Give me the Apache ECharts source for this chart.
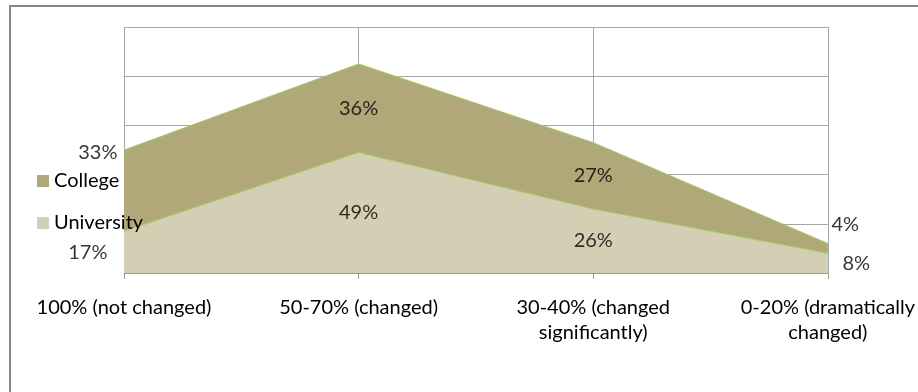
<!DOCTYPE html>
<html>
<head>
<meta charset="utf-8">
<script src="https://cdn.jsdelivr.net/npm/echarts@6/dist/echarts.min.js"></script>
<style>
  html, body { margin: 0; padding: 0; background: #fff; }
  #chart { width: 918px; height: 392px; }
</style>
</head>
<body>
<div id="chart"></div>
<script>
const categories = [
  '100% (not changed)',
  '50-70% (changed)',
  '30-40% (changed\nsignificantly)',
  '0-20% (dramatically\nchanged)'
];
const university = [17, 49, 26, 8];
const college = [33, 36, 27, 4];

const FONT = 'Lato';
const FS = 20;

const chart = echarts.init(document.getElementById('chart'));

// label anchors: middle of each band
const univMid = university.map((v, i) => [i, v / 2]);
const collegeMid = college.map((v, i) => [i, university[i] + v / 2]);

// end labels sit outside the plot like in the original
const univLabel = [
  { position: 'left', distance: 16 },
  { position: 'inside' },
  { position: 'inside' },
  { position: 'right', distance: 14 }
];
const collegeLabel = [
  { position: 'left', distance: 6, offset: [0, -38] },
  { position: 'inside' },
  { position: 'inside' },
  { position: 'right', distance: 3, offset: [0, -24] }
];

function labelSeries(name, points, values, labels) {
  return {
    name: name,
    type: 'scatter',
    symbolSize: 1,
    silent: true,
    z: 5,
    itemStyle: { color: 'transparent' },
    label: {
      show: true,
      color: '#000',
      fontFamily: FONT,
      fontSize: FS,
      formatter: (p) => values[p.dataIndex] + '%'
    },
    data: points.map((pt, i) => ({ value: pt, label: labels[i] }))
  };
}

chart.setOption({
  animation: false,
  textStyle: { fontFamily: FONT },
  graphic: [
    {
      type: 'rect',
      shape: { x: 10, y: 6, width: 1000, height: 1000 },
      style: { fill: 'none', stroke: '#878787', lineWidth: 2 },
      silent: true
    }
  ],
  grid: { left: 124, right: 90, top: 27, bottom: 119 },
  legend: {
    data: ['College', 'University'],
    orient: 'vertical',
    left: 32,
    top: 166,
    itemWidth: 12,
    itemHeight: 12,
    itemGap: 22,
    icon: 'rect',
    z: 10,
    textStyle: { fontFamily: FONT, fontSize: FS, color: '#000' }
  },
  xAxis: {
    type: 'category',
    data: categories,
    boundaryGap: false,
    axisLine: { lineStyle: { color: '#9a9a9a', width: 1 } },
    axisTick: { show: true, length: 6, lineStyle: { color: '#9a9a9a' } },
    axisLabel: {
      color: '#000',
      fontFamily: FONT,
      fontSize: FS,
      lineHeight: 25,
      margin: 22,
      interval: 0
    },
    splitLine: { show: true, lineStyle: { color: '#a6a6a6', width: 1 } }
  },
  yAxis: {
    type: 'value',
    min: 0,
    max: 100,
    interval: 20,
    axisLine: { show: false },
    axisTick: { show: false },
    axisLabel: { show: false },
    splitLine: { show: true, lineStyle: { color: '#a6a6a6', width: 1 } }
  },
  series: [
    {
      name: 'University',
      type: 'line',
      stack: 'total',
      showSymbol: false,
      symbol: 'none',
      itemStyle: { color: '#d4cfb4' },
      lineStyle: { color: '#a3cc66', width: 1 },
      areaStyle: { color: '#d4cfb4', opacity: 1 },
      data: university
    },
    {
      name: 'College',
      type: 'line',
      stack: 'total',
      showSymbol: false,
      symbol: 'none',
      itemStyle: { color: '#b0a878' },
      lineStyle: { color: '#a3cc66', width: 1 },
      areaStyle: { color: '#b0a878', opacity: 1 },
      data: college
    },
    labelSeries('univLabels', univMid, university, univLabel),
    labelSeries('collegeLabels', collegeMid, college, collegeLabel)
  ]
});
</script>
</body>
</html>
